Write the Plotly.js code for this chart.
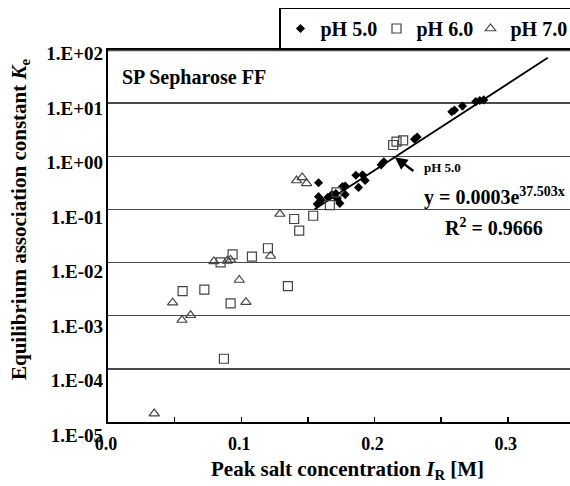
<!DOCTYPE html>
<html>
<head>
<meta charset="utf-8">
<script src="https://cdn.plot.ly/plotly-3.0.1.min.js"></script>
<style>
  html, body { margin: 0; padding: 0; background: #fff; }
  #chart { width: 570px; height: 486px; }
</style>
</head>
<body>
<div id="chart"></div>
<script>
// Peak salt concentration I_R [M] and equilibrium association constant Ke, by pH
const ph5X = [0.157, 0.158, 0.158, 0.160, 0.165, 0.168, 0.171, 0.172, 0.174, 0.176, 0.178, 0.178,
              0.186, 0.188, 0.191, 0.193, 0.205, 0.207, 0.230, 0.232, 0.258, 0.260, 0.266, 0.276,
              0.279, 0.282];
const ph5Y = [0.126, 0.174, 0.318, 0.150, 0.170, 0.190, 0.200, 0.160, 0.130, 0.270, 0.275, 0.190,
              0.440, 0.260, 0.450, 0.350, 0.690, 0.790, 2.10, 2.30, 6.9, 7.4, 8.8, 10.7,
              11.2, 11.5];

const ph6X = [0.056, 0.0723, 0.0845, 0.087, 0.092, 0.0935, 0.108, 0.120, 0.135, 0.1397, 0.1435,
              0.154, 0.1665, 0.1715, 0.214, 0.2165, 0.2215];
const ph6Y = [0.0029, 0.0031, 0.0101, 0.000155, 0.0017, 0.0143, 0.0129, 0.0186, 0.0036, 0.066, 0.040,
              0.076, 0.12, 0.21, 1.63, 1.88, 2.0];

const ph7X = [0.0347, 0.0485, 0.0555, 0.062, 0.0795, 0.0895, 0.092, 0.0985, 0.1035, 0.122, 0.129,
              0.1415, 0.1457, 0.149];
const ph7Y = [1.44e-5, 0.00176, 0.00083, 0.00102, 0.0105, 0.0108, 0.0112, 0.0047, 0.0018, 0.0133,
              0.082, 0.35, 0.40, 0.31];

// Exponential fit of the pH 5.0 series: y = A * exp(B * x)
const FIT_A = 0.0003;
const FIT_B = 37.503;
const FIT_R2 = 0.9666;
const fitX = [0.155, 0.33];
const fitY = fitX.map(x => FIT_A * Math.exp(FIT_B * x));

const xTickVals = [0, 0.05, 0.1, 0.15, 0.2, 0.25, 0.3];
const xTickText = ['0.0', '', '0.1', '', '0.2', '', '0.3'];
const yTickVals = [1e-5, 1e-4, 1e-3, 1e-2, 1e-1, 1e0, 1e1, 1e2];
const yTickText = ['1.E-05', '1.E-04', '1.E-03', '1.E-02', '1.E-01', '1.E+00', '1.E+01', '1.E+02'];

const SERIF = 'Liberation Serif, Times New Roman, serif';
const bold = (size) => ({ family: SERIF, size: size, color: '#000', weight: 'bold' });
const GRID = '#4a4a4a';

// figure geometry (pixels)
const W = 570, H = 486;
const M = { l: 108, r: 0, t: 50, b: 46 };
const plotW = W - M.l - M.r;          // paper width
const plotH = H - M.t - M.b;          // paper height
const axisBottom = 422;               // pixel row of the x axis line
const px = (x) => (x - M.l) / plotW;  // pixel column -> paper x
const py = (y) => (H - M.b - y) / plotH; // pixel row -> paper y

const traces = [
  {
    x: fitX, y: fitY, mode: 'lines', showlegend: false, hoverinfo: 'skip',
    line: { color: '#000', width: 1.8 }
  },
  {
    x: ph5X, y: ph5Y, mode: 'markers', name: 'pH 5.0', legendwidth: 51,
    marker: { symbol: 'diamond', size: 7, color: '#000', line: { width: 0 } }
  },
  {
    x: ph6X, y: ph6Y, mode: 'markers', name: 'pH 6.0', legendwidth: 49,
    marker: { symbol: 'square-open', size: 9, color: '#444', line: { width: 1.2 } }
  },
  {
    x: ph7X, y: ph7Y, mode: 'markers', name: 'pH 7.0', legendwidth: 62,
    marker: { symbol: 'triangle-up-open', size: 9, color: '#444', line: { width: 1.2 } }
  },
  {
    // empty series that binds the decade-label axis
    x: [null], y: [null], yaxis: 'y2', mode: 'markers',
    showlegend: false, hoverinfo: 'skip'
  }
];

const layout = {
  width: W, height: H,
  margin: { l: M.l, r: M.r, t: M.t, b: M.b, autoexpand: false },
  paper_bgcolor: '#fff', plot_bgcolor: 'rgba(0,0,0,0)',
  font: { family: SERIF, color: '#000' },
  xaxis: {
    anchor: 'y',
    range: [0, 0.3467],
    tickvals: xTickVals, ticktext: xTickText,
    ticks: 'inside', ticklen: 5, tickwidth: 1.5, tickcolor: '#000',
    ticklabelstandoff: 4, ticklabelshift: -2,
    showline: true, mirror: true, linecolor: '#000', linewidth: 2,
    showgrid: false, zeroline: false,
    tickfont: bold(18)
  },
  // data axis: gridlines and frame
  yaxis: {
    type: 'log', range: [-5, 2],
    domain: [py(axisBottom), 1],
    tickvals: yTickVals, showticklabels: false,
    ticks: '',
    showline: true, linecolor: '#000', linewidth: 2,
    showgrid: true, gridcolor: GRID, gridwidth: 1.5,
    zeroline: false
  },
  // label axis: carries the decade labels on a slightly wider spacing
  yaxis2: {
    type: 'log', anchor: 'x', domain: [0, 1],
    range: [-5.089, 2.0605],
    tickvals: yTickVals, ticktext: yTickText,
    ticks: '', ticklabelstandoff: 4,
    showline: false, showgrid: false, zeroline: false,
    tickfont: bold(19)
  },
  // top edge of the plot area (the 1.E+02 grid line)
  shapes: [
    {
      type: 'line', xref: 'paper', yref: 'paper', x0: 0, x1: 1, y0: 0.999, y1: 0.999,
      line: { color: GRID, width: 1.5 }, layer: 'above'
    }
  ],
  showlegend: true,
  legend: {
    orientation: 'h', x: px(279), xanchor: 'left', y: py(7.5), yanchor: 'top',
    bordercolor: '#000', borderwidth: 1.5, bgcolor: 'rgba(255,255,255,0)',
    font: bold(20)
  },
  annotations: [
    {
      text: 'SP Sepharose FF', xref: 'paper', yref: 'paper',
      x: px(120), y: py(78), xanchor: 'left', yanchor: 'middle',
      showarrow: false, font: bold(20)
    },
    {
      text: 'y = ' + FIT_A.toFixed(4) + 'e<sup>' + FIT_B.toFixed(3) + 'x</sup>',
      xref: 'paper', yref: 'paper', x: px(422), y: py(196), xanchor: 'left', yanchor: 'middle',
      showarrow: false, font: bold(20)
    },
    {
      text: 'R<sup>2</sup> = ' + FIT_R2.toFixed(4),
      xref: 'paper', yref: 'paper', x: px(443), y: py(227), xanchor: 'left', yanchor: 'middle',
      showarrow: false, font: bold(20)
    },
    {
      // arrow pointing at the pH 5.0 fit line
      text: '', x: 0.2153, y: Math.log10(FIT_A * Math.exp(FIT_B * 0.2153)), xref: 'x', yref: 'y',
      showarrow: true, arrowhead: 2, arrowsize: 1, arrowwidth: 2.5, arrowcolor: '#000',
      ax: 20, ay: 15, standoff: 0
    },
    {
      text: 'pH 5.0', xref: 'paper', yref: 'paper',
      x: px(422), y: py(167), xanchor: 'left', yanchor: 'middle',
      showarrow: false, font: bold(13)
    },
    {
      text: 'Equilibrium association constant <i>K</i><sub>e</sub>',
      xref: 'paper', yref: 'paper', x: px(20), y: py(219), xanchor: 'center', yanchor: 'middle',
      textangle: -90, showarrow: false, font: bold(21)
    },
    {
      text: 'Peak salt concentration <i>I</i><sub>R</sub> [M]',
      xref: 'paper', yref: 'paper', x: px(347), y: py(470), xanchor: 'center', yanchor: 'middle',
      showarrow: false, font: bold(21)
    }
  ]
};

Plotly.newPlot('chart', traces, layout, { displayModeBar: false, staticPlot: true });
</script>
</body>
</html>
